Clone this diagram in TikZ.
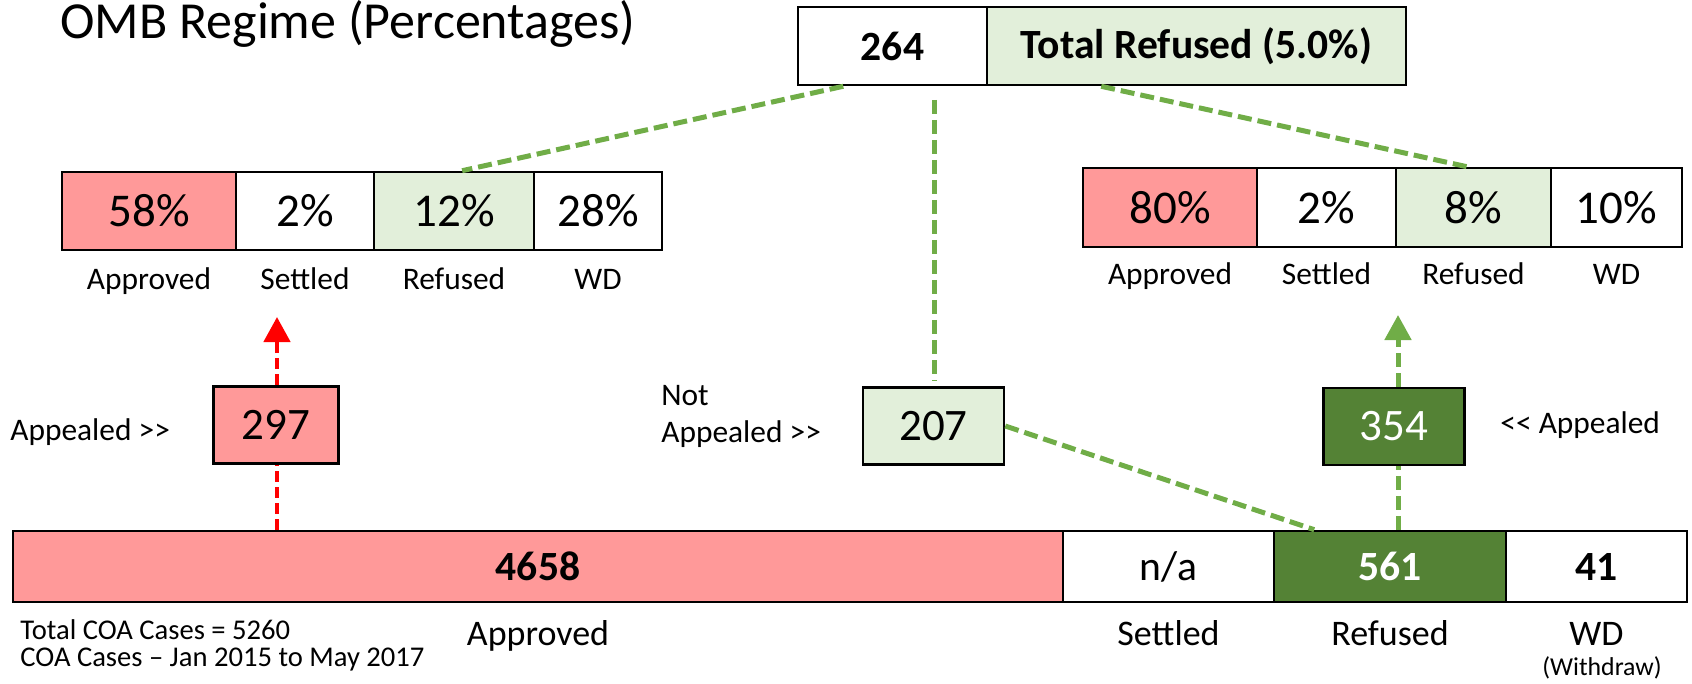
\documentclass[tikz,border=0pt]{standalone}
\usepackage{fontspec}
\setmainfont{Carlito}
\usetikzlibrary{arrows.meta,calc}
\definecolor{salmon}{HTML}{FF9999}
\definecolor{lightgr}{HTML}{E2EFDA}
\definecolor{darkgr}{HTML}{548235}
\definecolor{dashgr}{HTML}{70AD47}
\definecolor{redline}{HTML}{FF0000}
\begin{document}
\begin{tikzpicture}[x=0.5pt,y=-0.5pt,
  box/.style={draw=black,line width=1.3pt,inner sep=0pt,minimum height=#1},
  pct/.style={font=\fontsize{23.5pt}{24pt}\selectfont},
  mid/.style={font=\fontsize{22.5pt}{24pt}\selectfont},
  bignum/.style={font=\fontsize{20.8pt}{22pt}\selectfont\bfseries},
  lab/.style={font=\fontsize{15.7pt}{17pt}\selectfont,anchor=base,inner sep=0pt},
  blab/.style={font=\fontsize{18pt}{20pt}\selectfont,anchor=base,inner sep=0pt},
  note/.style={font=\fontsize{14.3pt}{16pt}\selectfont,anchor=base west,inner sep=0pt},
  gdash/.style={draw=dashgr,line width=2.5pt,dash pattern=on 7pt off 3pt},
  rdash/.style={draw=redline,line width=2.3pt,dash pattern=on 5.5pt off 2.5pt},
]
\useasboundingbox (0,0) rectangle (1692,684);

% title
\node[font=\fontsize{26pt}{28pt}\selectfont,anchor=base west,inner sep=0pt] (title) at (60,39) {OMB Regime (Percentages)};

% top box
\node[box=39pt,minimum width=94.5pt,bignum] (t1) at (892.5,46) {264};
\node[box=39pt,minimum width=209.5pt,fill=lightgr,bignum] (t2) at (1196.5,46) {Total Refused (5.0\%)};

% left percentage boxes
\node[box=39pt,minimum width=87pt,fill=salmon,pct] (lA) at (149,211) {58\%};
\node[box=39pt,minimum width=69pt,pct] (lS) at (305,211) {2\%};
\node[box=39pt,minimum width=80pt,fill=lightgr,pct] (lR) at (454,211) {12\%};
\node[box=39pt,minimum width=64pt,pct] (lW) at (598,211) {28\%};
\node[lab] (lAl) at (149,290) {Approved};
\node[lab] (lSl) at (305,290) {Settled};
\node[lab] (lRl) at (454,290) {Refused};
\node[lab] (lWl) at (598,290) {WD};

% right percentage boxes
\node[box=39.5pt,minimum width=87pt,fill=salmon,pct] (rA) at (1170,207.5) {80\%};
\node[box=39.5pt,minimum width=69.5pt,pct] (rS) at (1326.5,207.5) {2\%};
\node[box=39.5pt,minimum width=77.5pt,fill=lightgr,pct] (rR) at (1473.5,207.5) {8\%};
\node[box=39.5pt,minimum width=65.5pt,pct] (rW) at (1616.5,207.5) {10\%};
\node[lab] (rAl) at (1170,285) {Approved};
\node[lab] (rSl) at (1326.5,285) {Settled};
\node[lab] (rRl) at (1473.5,285) {Refused};
\node[lab] (rWl) at (1616.5,285) {WD};

% middle boxes
\node[box=38.5pt,minimum width=62.5pt,fill=salmon,mid] (m297) at (276,425) {297};
\node[box=38.5pt,minimum width=70.5pt,fill=lightgr,mid] (m207) at (933.5,426) {207};
\node[box=38.5pt,minimum width=70.5pt,fill=darkgr,text=white,mid] (m354) at (1394,426.5) {354};
\node[lab,anchor=base west] (app1) at (10,440) {Appealed >{}>};
\node[lab,anchor=base west] (not) at (661,405) {Not};
\node[lab,anchor=base west] (app2) at (661,442) {Appealed >{}>};
\node[lab,anchor=base west] (app3) at (1500,433) {<{}< Appealed};

% bottom bar
\node[box=35.5pt,minimum width=525pt,fill=salmon,bignum] (bA) at (538,566.5) {4658};
\node[box=35.5pt,minimum width=105.5pt,font=\fontsize{20.8pt}{22pt}\selectfont] (bS) at (1168.5,566.5) {n/a};
\node[box=35.5pt,minimum width=116pt,fill=darkgr,text=white,bignum] (bR) at (1390,566.5) {561};
\node[box=35.5pt,minimum width=90.5pt,bignum] (bW) at (1596.5,566.5) {41};
\node[blab] (bAl) at (538,645) {Approved};
\node[blab] (bSl) at (1168.5,645) {Settled};
\node[blab] (bRl) at (1390,645) {Refused};
\node[blab] (bWl) at (1596.5,645) {WD};
\node[font=\fontsize{12.9pt}{14pt}\selectfont,anchor=base,inner sep=0pt] (wdr) at (1602,675) {(Withdraw)};
\node[note] (n1) at (20,639) {Total COA Cases = 5260};
\node[note] (n2) at (20,666) {COA Cases – Jan 2015 to May 2017};

% connectors
\coordinate (redtip) at (277,317);
\coordinate (grtip) at (1398,315);
\coordinate (vtop) at (934,100);
\draw[rdash] (redtip |- bA.north) -- (redtip |- m297.south);
\draw[rdash,-{Triangle[width=13pt,length=12.5pt]}] (redtip |- m297.north) -- (redtip);
\draw[gdash] (grtip |- bR.north) -- (grtip |- m354.south);
\draw[gdash,-{Triangle[width=13pt,length=12.5pt]}] (grtip |- m354.north) -- (grtip);

\draw[gdash] ($(t1.south west)!0.243!(t1.south east)$) -- ($(lR.north west)!0.55!(lR.north east)$);
\draw[gdash] ($(t2.south west)!0.274!(t2.south east)$) -- ($(rR.north west)!0.458!(rR.north east)$);
\draw[gdash,shorten >=2.5pt] (vtop) -- (vtop |- m207.north);
\draw[gdash] (m207.east) -- ($(bR.north west)!0.177!(bR.north east)$);
\end{tikzpicture}
\end{document}
